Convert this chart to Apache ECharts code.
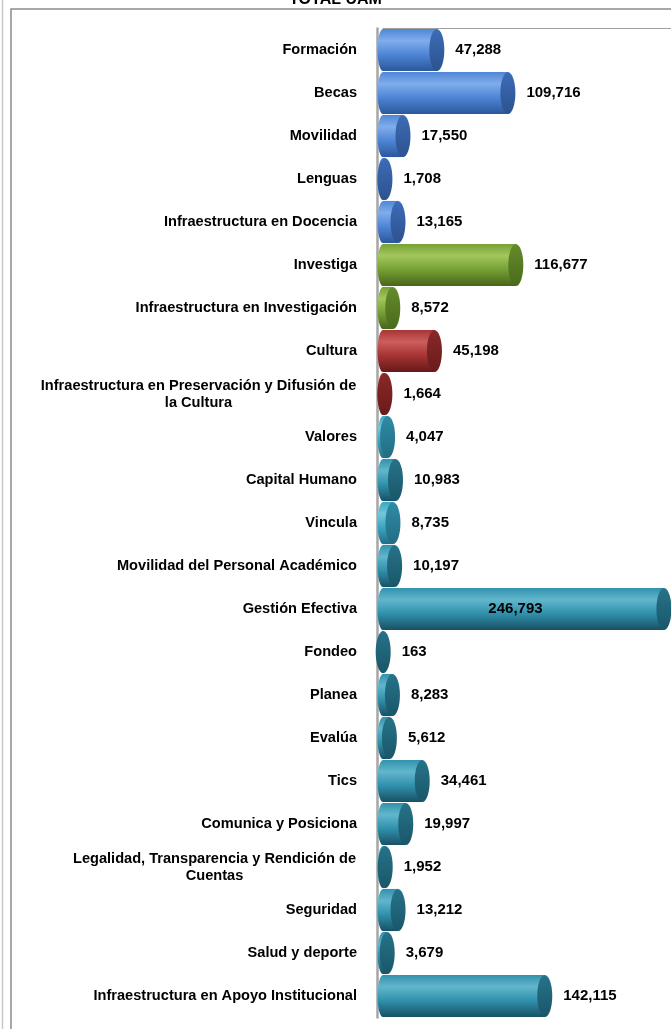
<!DOCTYPE html>
<html><head><meta charset="utf-8">
<script src="https://cdn.jsdelivr.net/npm/echarts@6/dist/echarts.min.js"></script>
<style>html,body{margin:0;padding:0;background:#fff;overflow:hidden}#c{width:671px;height:1029px}</style>
</head><body><div id="c"></div>
<script>
const chartTitle = 'TOTAL UAM';
const categories = [
  'Formación',
  'Becas',
  'Movilidad',
  'Lenguas',
  'Infraestructura en Docencia',
  'Investiga',
  'Infraestructura en Investigación',
  'Cultura',
  'Infraestructura en Preservación y Difusión de\nla Cultura',
  'Valores',
  'Capital Humano',
  'Vincula',
  'Movilidad del Personal Académico',
  'Gestión Efectiva',
  'Fondeo',
  'Planea',
  'Evalúa',
  'Tics',
  'Comunica y Posiciona',
  'Legalidad, Transparencia y Rendición de\nCuentas',
  'Seguridad',
  'Salud y deporte',
  'Infraestructura en Apoyo Institucional'
];
const values = [47288, 109716, 17550, 1708, 13165, 116677, 8572, 45198, 1664, 4047, 10983, 8735, 10197, 246793, 163, 8283, 5612, 34461, 19997, 1952, 13212, 3679, 142115];
const groups = ['D','D','D','D','D','I','I','C','C','V','G','V','G','G','G','G','G','G','G','G','G','G','G'];

const FONT = '"Liberation Sans", Arial, sans-serif';
const CAT_FS = 14.6;
const palette = {
  D: {light:'#80adec', base:'#4f86d6', dark:'#2b579c', cap:'#3d6cb6', capDark:'#2c5290'},
  I: {light:'#a3c75c', base:'#77a134', dark:'#46651a', cap:'#658b2b', capDark:'#4a6a1d'},
  C: {light:'#cc5e5e', base:'#a83434', dark:'#661818', cap:'#8a2828', capDark:'#6a1b1b'},
  V: {light:'#72c8dc', base:'#3ba6c1', dark:'#206e85', cap:'#2f8ba6', capDark:'#226d82'},
  G: {light:'#62b6cc', base:'#3192ad', dark:'#185064', cap:'#267389', capDark:'#1a5669'}
};

const mctx = document.createElement('canvas').getContext('2d');
function textW(t, f){ mctx.font = f; return mctx.measureText(t).width; }

// rich styles for wrapped category labels (centered lines)
const rich = {};
categories.forEach((c, i) => {
  if (c.indexOf('\n') >= 0) {
    const w = Math.max(...c.split('\n').map(l => textW(l, 'bold ' + CAT_FS + 'px ' + FONT)));
    rich['m' + i] = {width: Math.ceil(w) + 1, align: 'center', fontSize: CAT_FS, fontWeight: 'bold', fontFamily: FONT, color: '#000', lineHeight: 17};
  }
});

const seriesData = values.map((v, i) => [v, i]);

const chart = echarts.init(document.getElementById('c'), null, {renderer: 'canvas'});
chart.setOption({
  backgroundColor: '#fff',
  animation: false,
  title: {
    text: chartTitle, left: 'center', top: -8, padding: 0,
    textStyle: {fontSize: 16, fontWeight: 'bold', fontFamily: FONT, color: '#000'}
  },
  graphic: [
    {type: 'rect', shape: {x: 11, y: 9, width: 720, height: 1100}, style: {fill: 'none', stroke: '#8c8c8c', lineWidth: 1.5}, z: -1},
    {type: 'line', shape: {x1: 2.5, y1: 0, x2: 2.5, y2: 1029}, style: {stroke: '#c8c8c8', lineWidth: 1.5}, z: -1}
  ],
  grid: {left: 383, top: 28.5, right: 0, height: 989},
  xAxis: {
    type: 'value', min: 0, max: 253000, position: 'top',
    axisLine: {show: true, lineStyle: {color: '#a0a0a0', width: 1}},
    axisTick: {show: false}, axisLabel: {show: false}, splitLine: {show: false}
  },
  yAxis: {
    type: 'category', data: categories, inverse: true, offset: 6,
    axisLine: {show: true, onZero: false, lineStyle: {color: '#a6a6a6', width: 2.5}},
    axisTick: {show: false},
    axisLabel: {
      margin: 20, fontSize: CAT_FS, fontWeight: 'bold', fontFamily: FONT, color: '#000', lineHeight: 17,
      formatter: function (v, i) {
        if (v.indexOf('\n') < 0) return v;
        return v.split('\n').map(l => '{m' + i + '|' + l + '}').join('\n');
      },
      rich: rich
    }
  },
  series: [{
    type: 'custom',
    data: seriesData,
    encode: {x: 0, y: 1},
    renderItem: function (params, api) {
      const v = api.value(0), i = api.value(1);
      const p0 = api.coord([0, i]), p1 = api.coord([v, i]);
      const band = api.size([0, 1])[1];
      const ry = band * 0.49, rx = 7.5, cy = p0[1];
      const c = palette[groups[i]];
      const bodyFill = new echarts.graphic.LinearGradient(0, 0, 0, 1, [
        {offset: 0, color: c.base}, {offset: 0.28, color: c.light},
        {offset: 0.6, color: c.base}, {offset: 1, color: c.dark}
      ]);
      const capFill = new echarts.graphic.LinearGradient(0, 0, 0, 1, [
        {offset: 0, color: c.cap}, {offset: 1, color: c.capDark}
      ]);
      const children = [
        {type: 'ellipse', shape: {cx: p0[0], cy: cy, rx: 5.5, ry: ry}, style: {fill: bodyFill}},
        {type: 'rect', shape: {x: p0[0], y: cy - ry, width: Math.max(0, p1[0] - p0[0]), height: 2 * ry}, style: {fill: bodyFill}},
        {type: 'ellipse', shape: {cx: p1[0], cy: cy, rx: rx, ry: ry}, style: {fill: capFill}}
      ];
      const txt = values[i].toLocaleString('en-US');
      const lf = 'bold 15px ' + FONT;
      const tw = textW(txt, lf);
      let tx = p1[0] + rx + 11, align = 'left';
      if (tx + tw > api.getWidth()) {
        tx = (p0[0] + Math.min(p1[0], api.getWidth())) / 2 - 8;
        align = 'center';
      }
      children.push({
        type: 'text', z2: 10,
        style: {text: txt, x: tx, y: cy, align: align, verticalAlign: 'middle', fontSize: 15, fontWeight: 'bold', fontFamily: FONT, fill: '#000'}
      });
      return {type: 'group', children: children};
    }
  }]
});
</script>
</body></html>
